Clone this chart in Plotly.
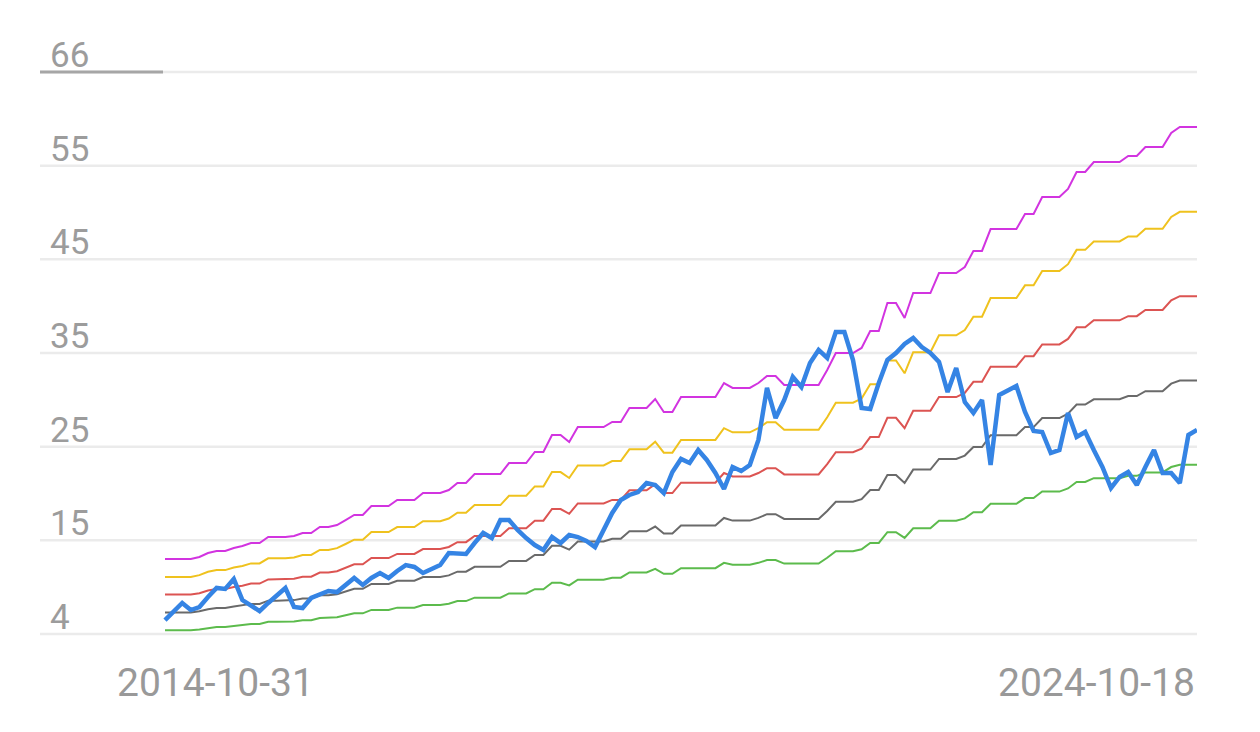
import pandas as pd
import plotly.graph_objects as go

# ---- data -------------------------------------------------------------
dates = [d.strftime("%Y-%m-%d") for d in pd.date_range("2014-10-31", periods=120, freq="ME")] + ["2024-10-18"]

pe = [5.92,6.90,7.78,7.01,7.34,8.43,9.41,9.30,10.39,8.10,
      7.56,6.90,7.78,8.54,9.41,7.34,7.23,8.32,8.65,9.08,
      8.97,9.74,10.50,9.74,10.50,11.04,10.50,11.26,11.91,11.70,
      11.04,11.48,11.91,13.22,13.22,13.11,14.31,15.40,14.85,16.81,
      16.81,15.73,14.85,14.09,13.55,14.96,14.31,15.18,14.96,14.53,
      13.87,15.73,17.58,18.99,19.54,19.86,20.84,20.63,19.75,22.04,
      23.46,23.02,24.44,23.35,21.93,20.19,22.59,22.15,22.80,25.53,
      31.19,27.92,29.88,32.39,31.30,33.91,35.33,34.46,37.29,37.29,
      34.24,29.01,28.90,31.73,34.24,35.00,35.98,36.63,35.65,35.00,
      34.02,30.75,33.37,29.66,28.47,29.88,22.80,30.43,30.97,31.41,
      28.58,26.51,26.40,24.11,24.44,28.47,25.85,26.40,24.44,22.59,
      20.30,21.50,22.04,20.63,22.59,24.44,21.93,21.93,20.84,26.07,
      26.62]

band_max = [12.57,12.57,12.57,12.57,12.79,13.22,13.44,13.44,13.77,13.98,
            14.31,14.31,14.96,14.96,14.96,15.07,15.40,15.40,16.05,16.05,
            16.27,16.81,17.36,17.36,18.34,18.34,18.34,18.99,18.99,18.99,
            19.75,19.75,19.75,20.08,20.84,20.84,21.82,21.82,21.82,21.82,
            23.02,23.02,23.02,24.22,24.22,26.07,26.07,25.31,26.94,26.94,
            26.94,26.94,27.49,27.49,29.01,29.01,29.01,29.99,28.58,28.58,
            30.21,30.21,30.21,30.21,30.21,31.73,31.19,31.19,31.19,31.73,
            32.50,32.50,31.52,31.52,31.52,31.52,31.52,33.15,35.00,35.00,
            35.00,35.55,37.40,37.40,40.45,40.45,38.81,41.53,41.53,41.53,
            43.71,43.71,43.71,44.37,46.11,46.11,48.50,48.50,48.50,48.50,
            50.14,50.14,51.99,51.99,51.99,52.86,54.71,54.71,55.80,55.80,
            55.80,55.80,56.45,56.45,57.43,57.43,57.43,58.96,59.61,59.61,
            59.61]

band_high = [10.62,10.62,10.62,10.62,10.81,11.17,11.36,11.36,11.64,11.81,
             12.09,12.09,12.64,12.64,12.64,12.73,13.01,13.01,13.56,13.56,
             13.75,14.20,14.67,14.67,15.50,15.50,15.50,16.05,16.05,16.05,
             16.69,16.69,16.69,16.97,17.61,17.61,18.44,18.44,18.44,18.44,
             19.45,19.45,19.45,20.47,20.47,22.03,22.03,21.39,22.76,22.76,
             22.76,22.76,23.23,23.23,24.51,24.51,24.51,25.34,24.15,24.15,
             25.53,25.53,25.53,25.53,25.53,26.81,26.36,26.36,26.36,26.81,
             27.46,27.46,26.63,26.63,26.63,26.63,26.63,28.01,29.58,29.58,
             29.58,30.04,31.60,31.60,34.18,34.18,32.79,35.09,35.09,35.09,
             36.93,36.93,36.93,37.49,38.96,38.96,40.98,40.98,40.98,40.98,
             42.37,42.37,43.93,43.93,43.93,44.67,46.23,46.23,47.15,47.15,
             47.15,47.15,47.70,47.70,48.53,48.53,48.53,49.82,50.37,50.37,
             50.37]

band_mid = [8.69,8.69,8.69,8.69,8.84,9.14,9.29,9.29,9.52,9.66,
            9.89,9.89,10.34,10.34,10.34,10.41,10.64,10.64,11.09,11.09,
            11.24,11.62,12.00,12.00,12.67,12.67,12.67,13.12,13.12,13.12,
            13.65,13.65,13.65,13.88,14.40,14.40,15.08,15.08,15.08,15.08,
            15.91,15.91,15.91,16.74,16.74,18.01,18.01,17.49,18.62,18.62,
            18.62,18.62,19.00,19.00,20.05,20.05,20.05,20.72,19.75,19.75,
            20.88,20.88,20.88,20.88,20.88,21.93,21.55,21.55,21.55,21.93,
            22.46,22.46,21.78,21.78,21.78,21.78,21.78,22.91,24.19,24.19,
            24.19,24.57,25.84,25.84,27.95,27.95,26.82,28.70,28.70,28.70,
            30.20,30.20,30.20,30.66,31.86,31.86,33.51,33.51,33.51,33.51,
            34.65,34.65,35.93,35.93,35.93,36.53,37.80,37.80,38.56,38.56,
            38.56,38.56,39.01,39.01,39.68,39.68,39.68,40.74,41.19,41.19,
            41.19]

band_low = [6.75,6.75,6.75,6.75,6.87,7.10,7.22,7.22,7.39,7.51,
            7.68,7.68,8.03,8.03,8.03,8.09,8.27,8.27,8.62,8.62,
            8.74,9.03,9.32,9.32,9.85,9.85,9.85,10.20,10.20,10.20,
            10.61,10.61,10.61,10.78,11.19,11.19,11.72,11.72,11.72,11.72,
            12.36,12.36,12.36,13.01,13.01,14.00,14.00,13.59,14.47,14.47,
            14.47,14.47,14.76,14.76,15.58,15.58,15.58,16.10,15.35,15.35,
            16.22,16.22,16.22,16.22,16.22,17.04,16.75,16.75,16.75,17.04,
            17.45,17.45,16.93,16.93,16.93,16.93,16.93,17.80,18.80,18.80,
            18.80,19.09,20.08,20.08,21.72,21.72,20.84,22.30,22.30,22.30,
            23.47,23.47,23.47,23.83,24.76,24.76,26.04,26.04,26.04,26.04,
            26.93,26.93,27.92,27.92,27.92,28.39,29.38,29.38,29.96,29.96,
            29.96,29.96,30.31,30.31,30.84,30.84,30.84,31.66,32.01,32.01,
            32.01]

band_min = [4.81,4.81,4.81,4.81,4.90,5.06,5.15,5.15,5.27,5.35,
            5.48,5.48,5.73,5.73,5.73,5.77,5.90,5.90,6.15,6.15,
            6.23,6.44,6.65,6.65,7.02,7.02,7.02,7.27,7.27,7.27,
            7.56,7.56,7.56,7.69,7.98,7.98,8.36,8.36,8.36,8.36,
            8.82,8.82,8.82,9.28,9.28,9.98,9.98,9.69,10.32,10.32,
            10.32,10.32,10.53,10.53,11.11,11.11,11.11,11.49,10.95,10.95,
            11.57,11.57,11.57,11.57,11.57,12.15,11.95,11.95,11.95,12.15,
            12.45,12.45,12.07,12.07,12.07,12.07,12.07,12.70,13.41,13.41,
            13.41,13.62,14.32,14.32,15.49,15.49,14.86,15.91,15.91,15.91,
            16.74,16.74,16.74,16.99,17.66,17.66,18.58,18.58,18.58,18.58,
            19.20,19.20,19.91,19.91,19.91,20.25,20.95,20.95,21.37,21.37,
            21.37,21.37,21.62,21.62,22.00,22.00,22.00,22.58,22.83,22.83,
            22.83]

y_min, y_max = 4.4, 65.6
y_tick_labels = ["4", "15", "25", "35", "45", "55", "66"]
x_tick_labels = [dates[0], dates[-1]]

# ---- figure -----------------------------------------------------------
W, H = 1260, 732
L, R, T, B = 40, 63, 72, 98
plot_w = W - L - R
n = len(dates)
step_px = (1197 - 165) / (n - 1)
x_lo = -(165 - L) / step_px

fig = go.Figure()
series = [
    (band_min, "#5cbb4c", 2),
    (band_low, "#6a6a6a", 2),
    (band_mid, "#dc5452", 2),
    (band_high, "#efc21e", 2),
    (band_max, "#d234e0", 2),
]
for vals, col, w in series:
    fig.add_trace(go.Scatter(x=dates, y=vals, mode="lines",
                             line=dict(color=col, width=w), hoverinfo="skip"))
fig.add_trace(go.Scatter(x=dates, y=pe, mode="lines",
                         line=dict(color="#3584e4", width=4.5)))

step = (y_max - y_min) / 6
tickvals = [y_min + i * step for i in range(7)]

fig.update_layout(
    width=W, height=H,
    margin=dict(l=L, r=R, t=T, b=B, pad=0),
    paper_bgcolor="white", plot_bgcolor="white",
    showlegend=False,
    font=dict(family="Roboto, sans-serif", color="#999999"),
    xaxis=dict(type="category", range=[x_lo, n - 1], showgrid=False,
               showticklabels=False, zeroline=False, showline=False, ticks=""),
    yaxis=dict(range=[y_min, y_max], showticklabels=False, showgrid=False,
               zeroline=False, showline=False, ticks=""),
)

# horizontal gridlines (drawn as shapes so the edge ones are kept)
for i in range(7):
    fig.add_shape(type="line", xref="paper", yref="paper", layer="below",
                  x0=0, x1=1, y0=i / 6, y1=i / 6,
                  line=dict(color="#ebebeb", width=2.5))

for v, lab in zip(tickvals, y_tick_labels):
    fig.add_annotation(x=0, xref="paper", xanchor="left", xshift=8,
                       y=v, yref="y", yanchor="bottom", yshift=-6,
                       text=lab, showarrow=False,
                       font=dict(size=35, color="#9c9c9c", family="Roboto, sans-serif"))

# darker stub on the top gridline under the top label
fig.add_shape(type="line", xref="paper", yref="paper", layer="above",
              x0=0, x1=(163 - L) / plot_w, y0=1, y1=1,
              line=dict(color="#a6a6a6", width=3))

fig.add_annotation(x=(215 - L) / plot_w, xref="paper", xanchor="center",
                   y=-0.087, yref="paper", yanchor="middle",
                   text=x_tick_labels[0], showarrow=False,
                   font=dict(size=39, color="#999999", family="Roboto, sans-serif"))
fig.add_annotation(x=1, xref="paper", xanchor="right", xshift=0,
                   y=-0.087, yref="paper", yanchor="middle",
                   text=x_tick_labels[1], showarrow=False,
                   font=dict(size=39, color="#999999", family="Roboto, sans-serif"))

fig.write_html("out.html", config={"displayModeBar": False},
               post_script="document.body.style.margin='0';")
